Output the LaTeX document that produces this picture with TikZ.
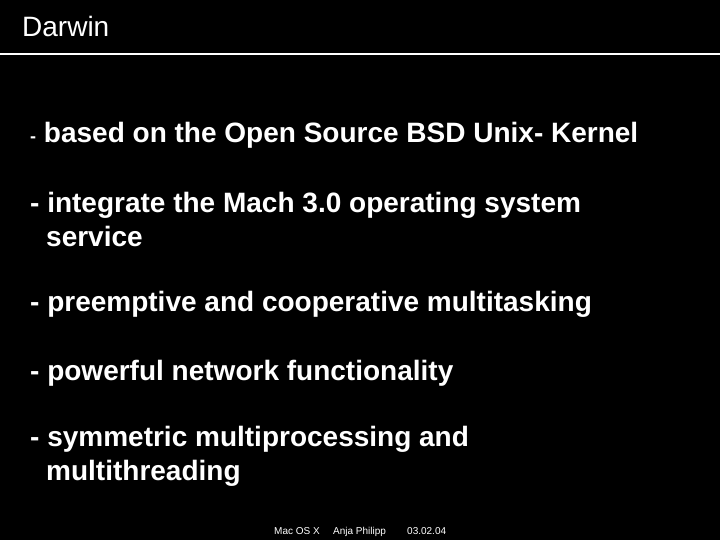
\documentclass[tikz,border=0pt]{standalone}
\usepackage{fontspec}
\setmainfont{Liberation Sans}
\begin{document}
\begin{tikzpicture}[x=1pt,y=-1pt,
  txt/.style={anchor=base west,inner sep=0pt,text=white,font=\fontsize{28}{34}\selectfont\bfseries},
  foot/.style={anchor=base west,inner sep=0pt,text=white,font=\fontsize{10}{12}\selectfont}]
\fill[black] (0,0) rectangle (720,540);
\useasboundingbox (0,0) rectangle (720,540);
\node[anchor=base west,inner sep=0pt,text=white,font=\fontsize{28}{34}\selectfont] (title) at (22,37) {Darwin};
\draw[white,line width=1.2pt] (0,54) -- (720,54);
\node[txt] (b1) at (30,143) {{\fontsize{18}{22}\selectfont -} based on the Open Source BSD Unix- Kernel};
\node[txt] (b2) at (30,212) {- integrate the Mach 3.0 operating system};
\node[txt] (b2b) at (46,246) {service};
\node[txt] (b3) at (30,311) {- preemptive and cooperative multitasking};
\node[txt] (b4) at (30,380) {- powerful network functionality};
\node[txt] (b5) at (30,446) {- symmetric multiprocessing and};
\node[txt] (b5b) at (46,480) {multithreading};
\node[foot] (f1) at (274,534) {Mac OS X};
\node[foot] (f2) at (333,534) {Anja Philipp};
\node[foot] (f3) at (407,534) {03.02.04};
\end{tikzpicture}
\end{document}
